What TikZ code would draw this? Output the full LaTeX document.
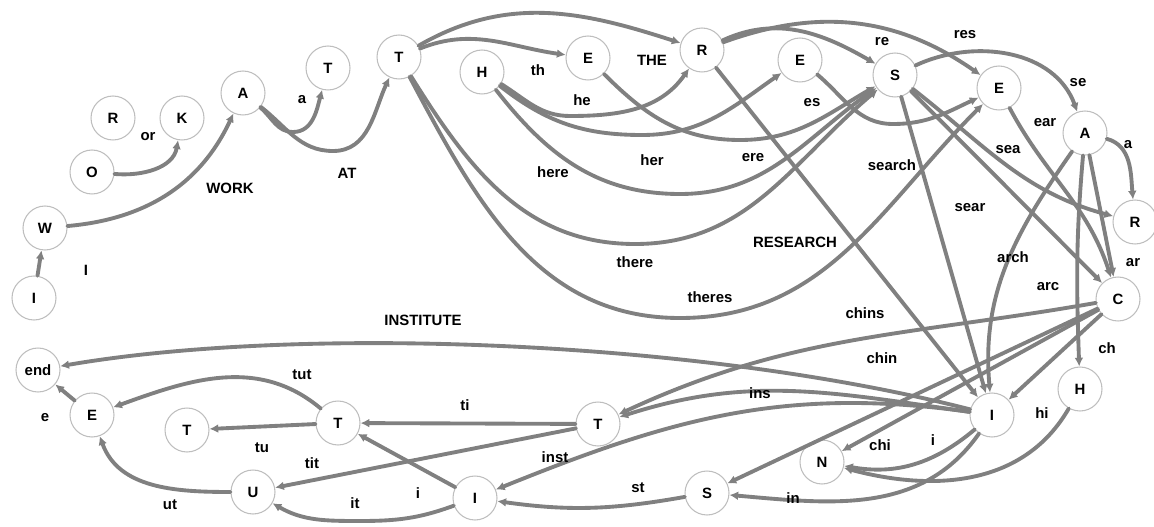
\documentclass[tikz,border=0pt]{standalone}
\usepackage{fontspec}
\setmainfont{Liberation Sans}
\usetikzlibrary{arrows.meta}
\definecolor{grigio}{RGB}{128,128,128}
\definecolor{bordo}{RGB}{190,190,190}
\tikzset{
  stato/.style={circle, draw=bordo, line width=0.6pt, fill=white, minimum size=0.88cm, inner sep=0pt, font=\fontsize{8.5}{10}\selectfont\bfseries},
  arco/.style={draw=grigio, line width=2.2pt, -{Latex[length=5pt,width=5pt]}},
  etichetta/.style={inner sep=0pt, font=\fontsize{8.5}{10}\selectfont\bfseries}
}
\begin{document}
\begin{tikzpicture}[x=0.02cm, y=0.02cm, line cap=round, line join=round]
    \useasboundingbox (0,0) rectangle (1154,-527);

    % Stati (riga alta)
    \node[stato] (i1) at (34,-298) {I};
    \node[stato] (w) at (45,-228) {W};
    \node[stato] (o) at (92,-172) {O};
    \node[stato] (r1) at (113,-118) {R};
    \node[stato] (k) at (182,-118) {K};
    \node[stato] (a1) at (243,-93) {A};
    \node[stato] (t1) at (328,-68) {T};
    \node[stato] (t2) at (399,-57) {T};
    \node[stato] (h1) at (482,-72) {H};
    \node[stato] (e1) at (588,-58) {E};
    \node[stato] (r2) at (702,-50) {R};
    \node[stato] (e2) at (800,-60) {E};
    \node[stato] (s1) at (895,-75) {S};
    \node[stato] (e3) at (999,-88) {E};
    \node[stato] (a2) at (1085,-133) {A};
    \node[stato] (r3) at (1135,-222) {R};
    \node[stato] (c) at (1118,-299) {C};

    % Stati (riga bassa)
    \node[stato] (h2) at (1080,-389) {H};
    \node[stato] (i2) at (992,-415) {I};
    \node[stato] (n) at (822,-462) {N};
    \node[stato] (s2) at (707,-493) {S};
    \node[stato] (t3) at (598,-424) {T};
    \node[stato] (i3) at (475,-498) {I};
    \node[stato] (t4) at (338,-423) {T};
    \node[stato] (t5) at (187,-430) {T};
    \node[stato] (u) at (253,-492) {U};
    \node[stato] (e4) at (92,-415) {E};
    \node[stato] (fine) at (38,-370) {end};

    % Archi: I WORK AT
    \draw[arco] (i1) -- (w);
    \draw[arco] (w) to[out=5, in=-115] (a1);
    \draw[arco] (o) to[out=-5, in=-100] (k);
    \draw[arco] (a1) to[out=-40, in=180] (293,-132) to[out=0, in=-105] (t1);
    \draw[arco] (a1) to[out=-38, in=180] (333,-151) to[out=0, in=-115] (t2);

    % Archi: THE / THERE
    \draw[arco] (t2) to[out=22, in=172] (e1);
    \draw[arco] (t2) to[out=30, in=162] (r2);
    \draw[arco] (h1) to[out=-32, in=180] (570,-116) to[out=0, in=-125] (r2);
    \draw[arco] (h1) to[out=-38, in=180] (642,-135) to[out=0, in=-145] (e2);
    \draw[arco] (h1) to[out=-52, in=180] (680,-194) to[out=0, in=-145] (s1);
    \draw[arco] (e1) to[out=-45, in=180] (740,-140) to[out=0, in=-150] (s1);
    \draw[arco] (t2) to[out=-58, in=180] (635,-244) to[out=0, in=-140] (s1);
    \draw[arco] (t2) to[out=-62, in=180] (680,-318) to[out=0, in=-135] (e3);

    % Archi: RESEARCH
    \draw[arco] (r2) to[out=25, in=150] (s1);
    \draw[arco] (r2) to[out=20, in=145] (e3);
    \draw[arco] (e2) to[out=-40, in=180] (893,-124) to[out=0, in=-155] (e3);
    \draw[arco] (s1) to[out=25, in=110] (a2);
    \draw[arco] (s1) to[out=-38, in=165] (r3);
    \draw[arco] (s1) -- (c);
    \draw[arco] (s1) -- (i2);
    \draw[arco] (r2) -- (i2);
    \draw[arco] (e3) to[out=-62, in=108] (c);
    \draw[arco] (a2) -- (c);
    \draw[arco] (a2) to[out=-95, in=92] (h2);
    \draw[arco] (a2) to[out=-125, in=95] (i2);
    \draw[arco] (a2) to[out=-15, in=95] (r3);
    \draw[arco] (c) -- (i2);
    \draw[arco] (c) -- (n);
    \draw[arco] (c) to[out=190, in=25] (t3);
    \draw[arco] (c) -- (s2);

    % Archi: INSTITUTE
    \draw[arco] (i2) .. controls (700,-340) and (300,-325) .. (fine);
    \draw[arco] (i2) to[out=172, in=18] (t3);
    \draw[arco] (i2) to[out=172, in=22] (i3);
    \draw[arco] (i2) to[out=-140, in=-10] (n);
    \draw[arco] (h2) to[out=-120, in=-15] (n);
    \draw[arco] (i2) to[out=-125, in=-5] (s2);
    \draw[arco] (s2) to[out=-170, in=-8] (i3);
    \draw[arco] (t3) -- (t4);
    \draw[arco] (t3) -- (u);
    \draw[arco] (i3) -- (t4);
    \draw[arco] (i3) to[out=-160, in=0] (360,-521) to[out=180, in=-30] (u);
    \draw[arco] (t4) -- (t5);
    \draw[arco] (t4) to[out=140, in=20] (e4);
    \draw[arco] (u) to[out=180, in=-70] (e4);
    \draw[arco] (e4) -- (fine);

    % Etichette
    \node[etichetta] (l-i) at (86,-270) {I};
    \node[etichetta] (l-or) at (148,-137) {or};
    \node[etichetta] (l-work) at (230,-188) {WORK};
    \node[etichetta] (l-a) at (302,-100) {a};
    \node[etichetta] (l-at) at (347,-173) {AT};
    \node[etichetta] (l-th) at (538,-70) {th};
    \node[etichetta] (l-he) at (582,-100) {he};
    \node[etichetta] (l-the) at (652,-60) {THE};
    \node[etichetta] (l-here) at (553,-172) {here};
    \node[etichetta] (l-her) at (652,-160) {her};
    \node[etichetta] (l-ere) at (753,-158) {ere};
    \node[etichetta] (l-there) at (635,-262) {there};
    \node[etichetta] (l-theres) at (710,-297) {theres};
    \node[etichetta] (l-research) at (795,-242) {RESEARCH};
    \node[etichetta] (l-re) at (882,-42) {re};
    \node[etichetta] (l-res) at (965,-35) {res};
    \node[etichetta] (l-es) at (812,-103) {es};
    \node[etichetta] (l-se) at (1078,-83) {se};
    \node[etichetta] (l-ear) at (1045,-123) {ear};
    \node[etichetta] (l-sea) at (1008,-150) {sea};
    \node[etichetta] (l-search) at (892,-165) {search};
    \node[etichetta] (l-sear) at (970,-208) {sear};
    \node[etichetta] (l-a2) at (1128,-145) {a};
    \node[etichetta] (l-arch) at (1013,-257) {arch};
    \node[etichetta] (l-arc) at (1048,-287) {arc};
    \node[etichetta] (l-ar) at (1133,-263) {ar};
    \node[etichetta] (l-chins) at (865,-313) {chins};
    \node[etichetta] (l-chin) at (882,-358) {chin};
    \node[etichetta] (l-ch) at (1107,-348) {ch};
    \node[etichetta] (l-hi) at (1042,-413) {hi};
    \node[etichetta] (l-chi) at (880,-445) {chi};
    \node[etichetta] (l-i2) at (933,-440) {i};
    \node[etichetta] (l-in) at (793,-498) {in};
    \node[etichetta] (l-institute) at (423,-320) {INSTITUTE};
    \node[etichetta] (l-ti) at (465,-405) {ti};
    \node[etichetta] (l-ins) at (760,-393) {ins};
    \node[etichetta] (l-inst) at (555,-457) {inst};
    \node[etichetta] (l-i3) at (418,-493) {i};
    \node[etichetta] (l-st) at (638,-488) {st};
    \node[etichetta] (l-tut) at (302,-375) {tut};
    \node[etichetta] (l-e) at (45,-418) {e};
    \node[etichetta] (l-tu) at (262,-448) {tu};
    \node[etichetta] (l-tit) at (312,-463) {tit};
    \node[etichetta] (l-ut) at (170,-505) {ut};
    \node[etichetta] (l-it) at (355,-503) {it};
\end{tikzpicture}
\end{document}
